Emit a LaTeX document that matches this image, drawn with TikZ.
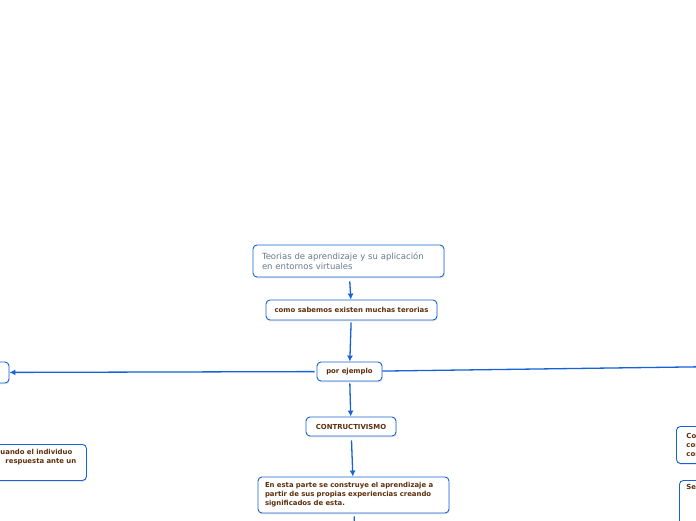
\documentclass[tikz,border=0pt]{standalone}
\usepackage{fontspec}
\setmainfont{DejaVu Sans}
\usepackage{tikz}
\usetikzlibrary{arrows.meta, positioning, shadows}
\usepackage{xcolor}
\definecolor{mapblue}{RGB}{22,98,214}
\definecolor{mapbrown}{RGB}{92,46,10}
\definecolor{titlegray}{RGB}{104,122,143}

\tikzset{
  idea/.style={draw=mapblue, line width=0.9pt, fill=white, rounded corners=4pt,
    drop shadow={shadow xshift=0.6pt, shadow yshift=-1.4pt, opacity=0.18},
    font=\fontsize{6.9}{9}\selectfont\bfseries, text=mapbrown, inner ysep=3pt},
  link/.style={-{Latex[length=6pt,width=6pt]}, draw=mapblue, line width=1.3pt}
}

\begin{document}
\begin{tikzpicture}[x=1pt, y=-1pt]
  \useasboundingbox (0,0) rectangle (696,520);
  \fill[white] (0,0) rectangle (696,520);
  \clip (0,0) rectangle (696,520);

  % centre column
  \node[idea, minimum width=191, minimum height=32, text width=173, align=left,
        font=\fontsize{8.5}{10}\selectfont, text=titlegray] (titulo) at (348.5,261)
    {Teorias de aprendizaje y su aplicación\\en entornos virtuales};
  \node[idea, minimum width=171, minimum height=20] (teorias) at (351.5,310)
    {como sabemos existen muchas terorias};
  \node[idea, minimum width=65, minimum height=19] (ejemplo) at (349.5,371.5) {por ejemplo};
  \node[idea, minimum width=90, minimum height=19] (constru) at (351,426.5) {CONTRUCTIVISMO};
  \node[idea, minimum width=191, minimum height=36, text width=177, align=left] (aprende) at (353.5,495)
    {En esta parte se construye el aprendizaje a\\partir de sus propias experiencias creando\\significados de esta.};

  % side branches, cut by the frame
  \node[idea, minimum width=69, minimum height=21] (izq) at (-25.5,372.5) {};
  \node[idea, anchor=north west, minimum width=95, minimum height=36, text width=77,
        inner xsep=9pt, align=left] (conduct) at (-9,444)
    {uando el individuo\\\hspace{5pt}respuesta ante un\\\strut};
  \node[idea, anchor=north west, minimum width=90, minimum height=37, text width=70,
        inner xsep=8pt, align=left] (der) at (676,426) {Cor\\con\\con};
  \node[idea, anchor=north west, minimum width=60, text width=46,
        inner xsep=7pt, inner ysep=4pt, align=left] (derb) at (679,480)
    {Se\\\strut\\\strut\\\strut\\\strut};
  \coordinate (derfin) at (760,366);
  \coordinate (abajo) at (355.5,560);

  \draw[link, shorten <=4pt] (titulo) -- (teorias);
  \draw[link, shorten <=2pt] (teorias) -- (ejemplo);
  \draw[link, shorten <=2pt] (ejemplo) -- (izq);
  \draw[link, -] (ejemplo) -- (derfin);
  \draw[link, shorten <=2pt] (ejemplo) -- (constru);
  \draw[link, shorten <=4pt] (constru) -- (aprende);
  \draw[link, shorten <=3pt, -] (aprende) -- (abajo);
\end{tikzpicture}
\end{document}
